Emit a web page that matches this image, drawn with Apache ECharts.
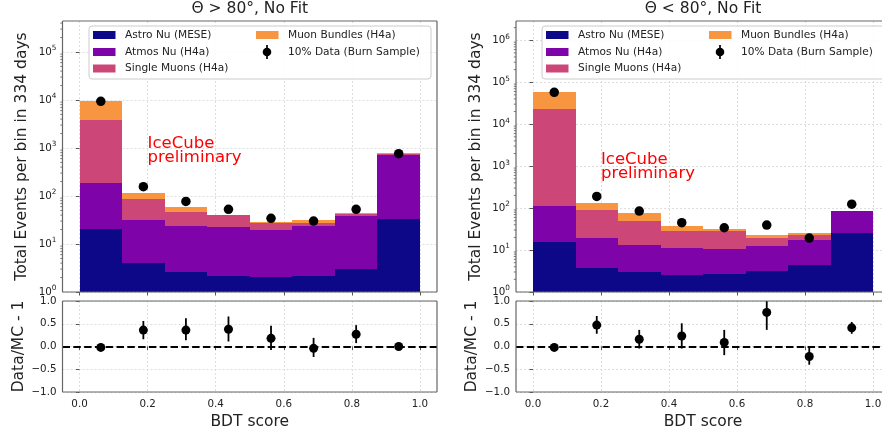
<!DOCTYPE html>
<html><head><meta charset="utf-8">
<script src="https://cdn.jsdelivr.net/npm/echarts@6/dist/echarts.min.js"></script>
<style>html,body{margin:0;padding:0;background:#fff;overflow:hidden}#c{width:882px;height:439px}</style>
</head><body><div id="c"></div>
<script>
// ---------------- data ----------------
const binEdges = [0, 0.125, 0.25, 0.375, 0.5, 0.625, 0.75, 0.875, 1.0];
const seriesNames = ['Astro Nu (MESE)', 'Atmos Nu (H4a)', 'Single Muons (H4a)', 'Muon Bundles (H4a)'];
const dataName = '10% Data (Burn Sample)';
const panelTitles = ['Θ > 80°, No Fit', 'Θ < 80°, No Fit'];
const xTicks = [0, 0.2, 0.4, 0.6, 0.8, 1.0];
const yTicksL = [1, 10, 100, 1000, 10000, 100000];
const yTickExpL = ['0', '1', '2', '3', '4', '5'];
const yTicksR = [1, 10, 100, 1000, 10000, 100000, 1000000];
const yTickExpR = ['0', '1', '2', '3', '4', '5', '6'];

// left panel (Theta > 80)
const astroL   = [20.2, 4.1, 2.65, 2.2, 2.1, 2.2, 3.0, 33];
const atmosL   = [170, 27.5, 21, 20, 17.4, 21.9, 35.9, 693];
const singleL  = [3640, 55, 22.7, 17.3, 8.3, 2.8, 2.6, 24];
const bundlesL = [5700, 27, 11.6, 0.7, 1.4, 4.7, 2.0, 24];
const dataL    = [9400, 156, 77, 52.7, 34.3, 30.1, 52.7, 762];
const ratioL   = [-0.02, 0.36, 0.36, 0.38, 0.18, -0.04, 0.27, 0.0];
const ratioLoL = [-0.035, 0.16, 0.14, 0.11, -0.075, -0.23, 0.075, -0.015];
const ratioHiL = [-0.005, 0.56, 0.62, 0.66, 0.455, 0.19, 0.47, 0.015];

// right panel (Theta < 80)
const astroR   = [15.5, 3.8, 2.94, 2.6, 2.7, 3.1, 4.4, 26];
const atmosR   = [98.5, 15.2, 10.5, 8.8, 8.1, 9.1, 12.9, 57];
const singleR  = [22590, 69, 36.6, 16.9, 17.5, 6.8, 5.5, 2];
const bundlesR = [37300, 43.6, 26, 8.3, 3.9, 3.3, 2.6, 2.5];
const dataR    = [57600, 190, 85, 44.8, 34, 39.4, 19.3, 124];
const ratioR   = [-0.02, 0.47, 0.16, 0.23, 0.09, 0.75, -0.22, 0.41];
const ratioLoR = [-0.035, 0.28, -0.045, -0.045, -0.19, 0.365, -0.40, 0.28];
const ratioHiR = [-0.005, 0.67, 0.365, 0.51, 0.365, 1.15, 0.0, 0.54];

const annotText = 'IceCube\npreliminary';
const annotPos = [0.2, 500];

// ---------------- style / layout ----------------
const FONT = 'DejaVu Sans';
const colors = ['#0d0887', '#7e03a8', '#cc4778', '#f89540'];
const layout = [
  { left: 62.5, width: 374.5, legendX: 89, ylabX: 22, rlabX: 18.5 },
  { left: 516, width: 374, legendX: 542, ylabX: 475.5, rlabX: 472 }
];
const topY = 21, topH = 271, botY = 301, botH = 91;
const panels = [
  { layers: [astroL, atmosL, singleL, bundlesL], data: dataL, ratio: ratioL, lo: ratioLoL, hi: ratioHiL,
    yMax: 4.42e5, yTicks: yTicksL, yExp: yTickExpL, title: panelTitles[0] },
  { layers: [astroR, atmosR, singleR, bundlesR], data: dataR, ratio: ratioR, lo: ratioLoR, hi: ratioHiR,
    yMax: 2.88e6, yTicks: yTicksR, yExp: yTickExpR, title: panelTitles[1] }
];

const chart = echarts.init(document.getElementById('c'), null, { renderer: 'canvas' });
const splitLine = { show: true, lineStyle: { color: '#d6d6d6', width: 0.8, type: [2, 2] } };
const tickStyle = { color: '#555', width: 1 };
const labelStyle = { fontFamily: FONT, fontSize: 10.3, color: '#222' };

function rectRender(color) {
  return function (params, api) {
    const a = api.coord([api.value(0), api.value(3)]);
    const b = api.coord([api.value(1), api.value(2)]);
    const x0 = Math.round(a[0]), x1 = Math.round(b[0]);
    const y0 = Math.round(a[1]), y1 = Math.round(b[1]);
    return { type: 'rect', shape: { x: x0, y: y0, width: x1 - x0, height: y1 - y0 }, style: { fill: color } };
  };
}
function errRender(params, api) {
  const a = api.coord([api.value(0), api.value(1)]);
  const b = api.coord([api.value(0), api.value(2)]);
  return { type: 'line', shape: { x1: a[0], y1: a[1], x2: b[0], y2: b[1] }, style: { stroke: '#000', lineWidth: 1.8 } };
}
function minorRender(params, api) {
  const p = api.coord([api.value(0), api.value(1)]);
  return { type: 'line', shape: { x1: p[0] - 2.2, y1: p[1], x2: p[0], y2: p[1] }, style: { stroke: '#555', lineWidth: 0.8 } };
}

const grid = [], xAxis = [], yAxis = [], series = [];
panels.forEach((p, i) => {
  const L = layout[i];
  const gTop = 2 * i, gBot = 2 * i + 1;
  grid.push({ left: L.left, top: topY, width: L.width, height: topH, outerBoundsMode: 'none', containLabel: false });
  grid.push({ left: L.left, top: botY, width: L.width, height: botH, outerBoundsMode: 'none', containLabel: false });
  [gTop, gBot].forEach(g => xAxis.push({
    type: 'value', gridIndex: g, min: -0.05, max: 1.05,
    axisLine: { show: false },
    axisTick: { show: true, customValues: xTicks, length: 3.5, lineStyle: tickStyle },
    axisLabel: Object.assign({ show: g === gBot, customValues: xTicks, margin: 7, formatter: v => v.toFixed(1) }, labelStyle),
    splitLine: splitLine
  }));
  yAxis.push({
    type: 'log', logBase: 10, gridIndex: gTop, min: 1, max: p.yMax,
    axisLine: { show: false },
    axisTick: { show: true, customValues: p.yTicks, length: 3.5, lineStyle: tickStyle },
    axisLabel: Object.assign({ customValues: p.yTicks, margin: 6,
      formatter: v => '{b|10}{s|' + p.yExp[Math.round(Math.log10(v))] + '}',
      rich: {
        b: { fontFamily: FONT, fontSize: 10.3, color: '#222' },
        s: { fontFamily: FONT, fontSize: 7.3, color: '#222', padding: [0, 0, 7, 0] }
      } }, labelStyle),
    splitLine: splitLine, minorTick: { show: false }
  });
  yAxis.push({
    type: 'value', gridIndex: gBot, min: -1, max: 1, interval: 0.5,
    axisLine: { show: false },
    axisTick: { show: true, length: 3.5, lineStyle: tickStyle },
    axisLabel: Object.assign({ margin: 6, formatter: v => v.toFixed(1).replace('-', '−') }, labelStyle),
    splitLine: splitLine
  });

  // stacked histogram layers
  const cum = binEdges.slice(1).map(() => 0);
  p.layers.forEach((vals, k) => {
    const items = vals.map((v, b) => {
      const lo = cum[b], hi = cum[b] + v;
      cum[b] = hi;
      return [binEdges[b], binEdges[b + 1], Math.max(lo, 1), hi];
    });
    series.push({
      type: 'custom', name: seriesNames[k], xAxisIndex: gTop, yAxisIndex: gTop,
      data: items, encode: { x: [0, 1], y: [2, 3] }, renderItem: rectRender(colors[k]), clip: true, z: 2, silent: true
    });
  });
  const centers = binEdges.slice(0, -1).map((e, b) => (e + binEdges[b + 1]) / 2);
  series.push({
    type: 'scatter', name: dataName, xAxisIndex: gTop, yAxisIndex: gTop,
    data: p.data.map((v, b) => [centers[b], v]), symbol: 'circle', symbolSize: 9.5,
    itemStyle: { color: '#000', opacity: 1 }, z: 5, silent: true
  });
  // minor log ticks (axis decoration)
  const minors = [];
  for (let e = 0; Math.pow(10, e) < p.yMax; e++) {
    for (let m = 2; m <= 9; m++) { const v = m * Math.pow(10, e); if (v < p.yMax) minors.push([-0.05, v]); }
  }
  series.push({
    type: 'custom', xAxisIndex: gTop, yAxisIndex: gTop, data: minors, encode: { x: 0, y: 1 },
    renderItem: minorRender, clip: false, z: 6, silent: true
  });
  // ratio panel
  series.push({
    type: 'scatter', xAxisIndex: gBot, yAxisIndex: gBot, data: [], symbolSize: 0, z: 3, silent: true,
    markLine: { silent: true, symbol: ['none', 'none'], label: { show: false },
      lineStyle: { color: '#000', type: [7.5, 3.3], width: 1.8 }, data: [{ yAxis: 0 }], animation: false }
  });
  series.push({
    type: 'custom', xAxisIndex: gBot, yAxisIndex: gBot,
    data: p.ratio.map((r, b) => [centers[b], p.lo[b], p.hi[b]]), encode: { x: 0, y: [1, 2] },
    renderItem: errRender, clip: true, z: 4, silent: true
  });
  series.push({
    type: 'scatter', xAxisIndex: gBot, yAxisIndex: gBot,
    data: p.ratio.map((r, b) => [centers[b], r]), symbol: 'circle', symbolSize: 9,
    itemStyle: { color: '#000', opacity: 1 }, z: 5, silent: true
  });
});

chart.setOption({
  animation: false,
  textStyle: { fontFamily: FONT },
  grid, xAxis, yAxis, series
});

// ---------------- decorations ----------------
const graphic = [];
const txt = (x, y, text, size, extra) => Object.assign({
  type: 'text', x, y, silent: true, z: 60,
  style: Object.assign({ text, fill: '#222', font: size + 'px "' + FONT + '"', textAlign: 'center', textVerticalAlign: 'middle' }, extra || {})
});
function frame(x, y, w, h) {
  // spines: left, bottom, top, right
  return [[x, y, x, y + h], [x, y + h, x + w, y + h], [x, y, x + w, y], [x + w, y, x + w, y + h]].map(s => ({
    type: 'line', silent: true, z: 100, shape: { x1: s[0], y1: s[1], x2: s[2], y2: s[3] },
    style: { stroke: '#666', lineWidth: 1.2 }
  }));
}
panels.forEach((p, i) => {
  const L = layout[i];
  const gTop = 2 * i;
  frame(L.left, topY, L.width, topH).forEach(e => graphic.push(e));
  frame(L.left, botY, L.width, botH).forEach(e => graphic.push(e));
  const cx = L.left + L.width / 2;
  graphic.push(txt(cx, 9, p.title, 15.5));
  graphic.push(txt(cx, 422, 'BDT score', 15.5));
  graphic.push(Object.assign(txt(L.ylabX, (topY + topY + topH) / 2, 'Total Events per bin in 334 days', 15.5), { rotation: Math.PI / 2 }));
  graphic.push(Object.assign(txt(L.rlabX, botY + botH / 2, 'Data/MC - 1', 15.5), { rotation: Math.PI / 2 }));
  // legend
  const lx = L.legendX, ly = 26;
  graphic.push({ type: 'rect', silent: true, z: 50, shape: { x: lx, y: ly, width: 342, height: 53, r: 3 },
    style: { fill: 'rgba(255,255,255,0.88)', stroke: '#cccccc', lineWidth: 1 } });
  const rows = [35, 52, 68.5];
  const entries = [
    { col: 0, row: 0, k: 0 }, { col: 0, row: 1, k: 1 }, { col: 0, row: 2, k: 2 },
    { col: 1, row: 0, k: 3 }, { col: 1, row: 1, k: -1 }
  ];
  entries.forEach(en => {
    const px = lx + (en.col === 0 ? 4 : 167);
    const py = rows[en.row];
    if (en.k >= 0) {
      graphic.push({ type: 'rect', silent: true, z: 55, shape: { x: px, y: py - 4, width: 22.5, height: 8 },
        style: { fill: colors[en.k] } });
    } else {
      graphic.push({ type: 'line', silent: true, z: 55, shape: { x1: px + 11, y1: py - 7, x2: px + 11, y2: py + 7 },
        style: { stroke: '#000', lineWidth: 1.7 } });
      graphic.push({ type: 'circle', silent: true, z: 56, shape: { cx: px + 11, cy: py, r: 4.3 }, style: { fill: '#000' } });
    }
    graphic.push(txt(px + 32, py, en.k >= 0 ? seriesNames[en.k] : dataName, 10.6, { textAlign: 'left' }));
  });
  // IceCube preliminary annotation
  const ap = chart.convertToPixel({ gridIndex: gTop }, annotPos);
  graphic.push({ type: 'text', silent: true, z: 40, x: ap[0], y: ap[1] + 2,
    style: { text: annotText, fill: '#ff0000', font: '16.5px "' + FONT + '"', lineHeight: 14,
      textAlign: 'left', textVerticalAlign: 'bottom' } });
});
chart.setOption({ graphic: graphic });
</script>
</body></html>
